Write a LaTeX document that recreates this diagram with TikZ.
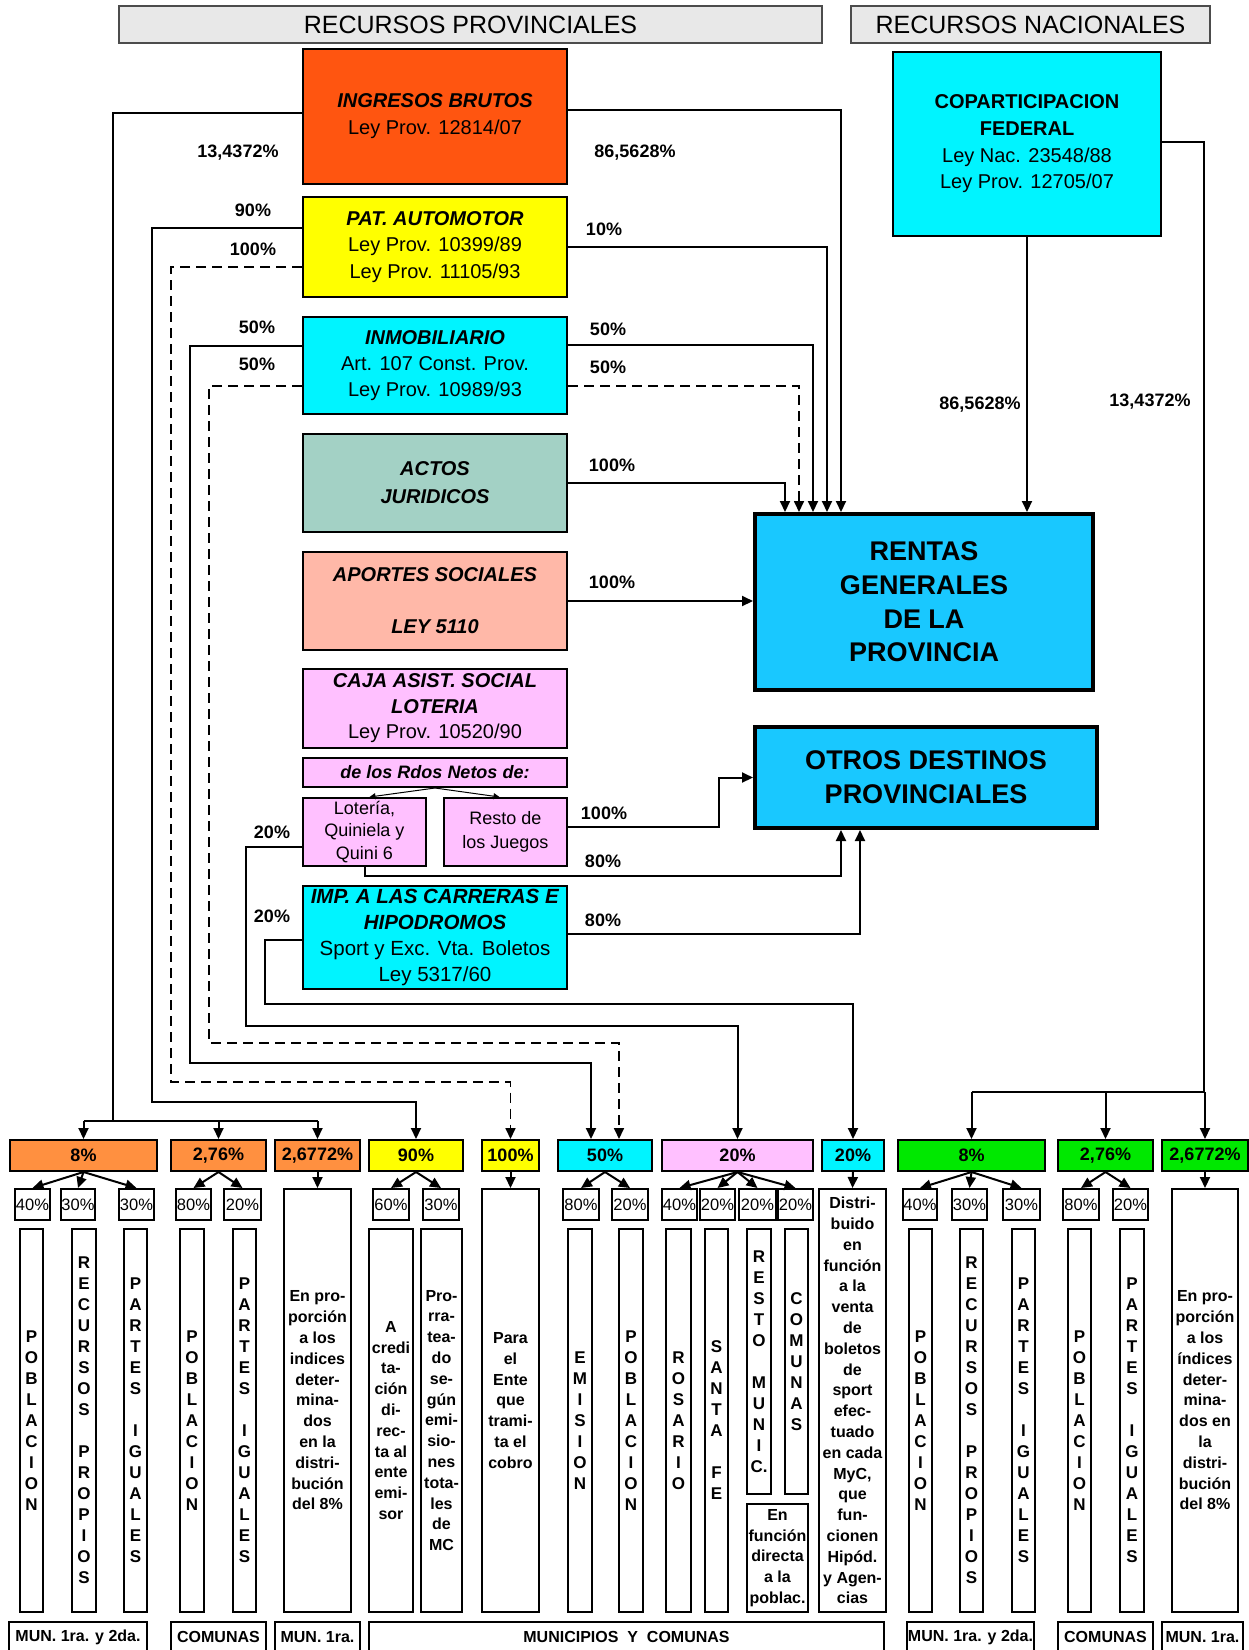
\documentclass[tikz,border=0pt]{standalone}
\usepackage{fontspec}
\setmainfont{Liberation Sans}
\usetikzlibrary{arrows.meta,calc}
\definecolor{hdr}{HTML}{E8E8E8}
\definecolor{cIng}{HTML}{FF5510}
\definecolor{cPat}{HTML}{FFFF00}
\definecolor{cCy}{HTML}{00F4FF}
\definecolor{cAct}{HTML}{A3D1C5}
\definecolor{cApo}{HTML}{FFB8A8}
\definecolor{cPk}{HTML}{FFC0FF}
\definecolor{cRen}{HTML}{19C8FF}
\definecolor{cOr}{HTML}{FF9040}
\definecolor{cGr}{HTML}{00E800}
\newcommand\fsz[2]{\fontsize{#1pt}{#2pt}\selectfont}
\newcommand\Bx[7][]{\node[bx,#1,minimum width={#5-#3},minimum height={#6-#4}] (#2) at ({(#3+#5)/2},{(#4+#6)/2}) {#7};}
\tikzset{
  bx/.style={draw=black, line width=2pt, inner sep=0pt, align=center},
  ln/.style={line width=2pt},
  arr/.style={line width=2pt, -{Triangle[length=11pt,width=10pt]}},
  dsh/.style={line width=1.7pt, dash pattern=on 10pt off 6pt},
  dsharr/.style={dsh, -{Triangle[length=11pt,width=10pt]}},
  sarr/.style={line width=1pt, -{Triangle[length=6pt,width=6pt]}},
  pct/.style={font=\fsz{18}{20}\bfseries},
  vcol/.style={font=\fsz{17}{21}\bfseries},
  para/.style={font=\fsz{16}{20.8}\bfseries},
  pbox/.style={font=\fsz{16.5}{20}},
  tbox/.style={font=\fsz{18}{20}\bfseries},
  lbox/.style={line width=2.5pt, font=\fsz{16}{20}\bfseries},
}
\begin{document}
\begin{tikzpicture}[x=1pt,y=-1pt]
\useasboundingbox (0,0) rectangle (1249,1650);
\fill[white] (0,0) rectangle (1249,1650);

% headers
\Bx[fill=hdr,draw=black!70,font=\fsz{25}{30}]{hP}{119}{6}{822}{43}{RECURSOS PROVINCIALES}
\Bx[fill=hdr,draw=black!70,font=\fsz{25}{30}]{hN}{851}{6}{1210}{43}{RECURSOS NACIONALES}

% source boxes
\Bx[fill=cIng,font=\fsz{20}{27}]{ing}{303}{49}{567}{184}{\textbf{\textit{INGRESOS BRUTOS}}\\Ley Prov. 12814/07}
\Bx[fill=cPat,font=\fsz{20}{26.5}]{pat}{303}{197}{567}{297}{\textbf{\textit{PAT. AUTOMOTOR}}\\Ley Prov. 10399/89\\Ley Prov. 11105/93}
\Bx[fill=cCy,font=\fsz{20}{26}]{inm}{303}{317}{567}{414}{\textbf{\textit{INMOBILIARIO}}\\Art. 107 Const. Prov.\\Ley Prov. 10989/93}
\Bx[fill=cAct,font=\fsz{20}{28}\bfseries\itshape]{act}{303}{434}{567}{532}{ACTOS\\JURIDICOS}
\Bx[fill=cApo,font=\fsz{20}{26}\bfseries\itshape]{apo}{303}{552}{567}{650}{APORTES SOCIALES\\\mbox{}\\LEY 5110}
\Bx[fill=cPk,font=\fsz{20}{25.5}]{caja}{303}{669}{567}{748}{\textbf{\textit{CAJA ASIST. SOCIAL}}\\\textbf{\textit{LOTERIA}}\\Ley Prov. 10520/90}
\Bx[fill=cPk,font=\fsz{18}{20}\bfseries\itshape]{rdos}{303}{758}{567}{787}{de los Rdos Netos de:}
\Bx[fill=cPk,font=\fsz{18}{22.5}]{lot}{303}{798}{426}{866}{Lotería,\\Quiniela y\\Quini 6}
\Bx[fill=cPk,font=\fsz{18}{24}]{res}{444}{798}{567}{866}{Resto de\\los Juegos}
\Bx[fill=cCy,font=\fsz{20.5}{26}]{imp}{303}{886}{567}{989}{\textbf{\textit{IMP. A LAS CARRERAS E}}\\\textbf{\textit{HIPODROMOS}}\\Sport y Exc. Vta. Boletos\\Ley 5317/60}
\Bx[fill=cCy,font=\fsz{20}{26.7}]{cop}{893}{52}{1161}{236}{\textbf{COPARTICIPACION}\\\textbf{FEDERAL}\\Ley Nac. 23548/88\\Ley Prov. 12705/07}
\Bx[fill=cRen,line width=4pt,font=\fsz{27}{33.7}\bfseries]{ren}{755}{514}{1093}{690}{RENTAS\\GENERALES\\DE LA\\PROVINCIA}
\Bx[fill=cRen,line width=4pt,font=\fsz{27}{34}\bfseries]{otr}{755}{727}{1097}{828}{OTROS DESTINOS\\PROVINCIALES}

% percentage labels
\node[pct] (l01) at (238,153) {13,4372\%};
\node[pct] (l02) at (635,153) {86,5628\%};
\node[pct] (l03) at (253,210) {90\%};
\node[pct] (l04) at (253,249) {100\%};
\node[pct] (l05) at (604,229) {10\%};
\node[pct] (l06) at (257,327) {50\%};
\node[pct] (l07) at (257,364) {50\%};
\node[pct] (l08) at (608,329) {50\%};
\node[pct] (l09) at (608,367) {50\%};
\node[pct] (l10) at (612,465) {100\%};
\node[pct] (l11) at (612,582) {100\%};
\node[pct] (l12) at (604,813) {100\%};
\node[pct] (l13) at (603,861) {80\%};
\node[pct] (l14) at (272,832) {20\%};
\node[pct] (l15) at (603,920) {80\%};
\node[pct] (l16) at (272,916) {20\%};
\node[pct] (l17) at (980,405) {86,5628\%};
\node[pct] (l18) at (1150,402) {13,4372\%};

% top row of destination boxes
\Bx[tbox,fill=cOr]{p8o}{10}{1140}{157}{1171}{8\%}
\Bx[tbox,fill=cOr]{p276o}{171}{1140}{266}{1171}{2,76\%}
\Bx[tbox,fill=cOr]{p2772o}{275}{1140}{360}{1171}{2,6772\%}
\Bx[tbox,fill=cPat]{p90}{369}{1140}{463}{1171}{90\%}
\Bx[tbox,fill=cPat]{p100}{482}{1140}{539}{1171}{100\%}
\Bx[tbox,fill=cCy]{p50}{558}{1140}{652}{1171}{50\%}
\Bx[tbox,fill=cPk]{p20p}{662}{1140}{813}{1171}{20\%}
\Bx[tbox,fill=cCy]{p20c}{822}{1140}{884}{1171}{20\%}
\Bx[tbox,fill=cGr]{g8}{898}{1140}{1045}{1171}{8\%}
\Bx[tbox,fill=cGr]{g276}{1058}{1140}{1153}{1171}{2,76\%}
\Bx[tbox,fill=cGr]{g2772}{1162}{1140}{1248}{1171}{2,6772\%}

% percent row
\Bx[pbox]{c1}{15}{1189}{50}{1220}{40\%}
\Bx[pbox]{c2}{62}{1189}{94}{1220}{30\%}
\Bx[pbox]{c3}{119}{1189}{154}{1220}{30\%}
\Bx[pbox]{c4}{176}{1189}{211}{1220}{80\%}
\Bx[pbox]{c5}{224}{1189}{261}{1220}{20\%}
\Bx[pbox]{c6}{373}{1189}{409}{1220}{60\%}
\Bx[pbox]{c7}{423}{1189}{459}{1220}{30\%}
\Bx[pbox]{c8}{563}{1189}{599}{1220}{80\%}
\Bx[pbox]{c9}{612}{1189}{648}{1220}{20\%}
\Bx[pbox]{c10}{662}{1189}{697}{1220}{40\%}
\Bx[pbox]{c11}{700}{1189}{735}{1220}{20\%}
\Bx[pbox]{c12}{739}{1189}{776}{1220}{20\%}
\Bx[pbox]{c13}{778}{1189}{813}{1220}{20\%}
\Bx[pbox]{d1}{903}{1189}{937}{1220}{40\%}
\Bx[pbox]{d2}{952}{1189}{987}{1220}{30\%}
\Bx[pbox]{d3}{1003}{1189}{1040}{1220}{30\%}
\Bx[pbox]{d4}{1063}{1189}{1099}{1220}{80\%}
\Bx[pbox]{d5}{1113}{1189}{1148}{1220}{20\%}

% tall description boxes
\Bx[para]{t2772o}{284}{1189}{351}{1612}{En pro-\\porción\\a los\\indices\\deter-\\mina-\\dos\\en la\\distri-\\bución\\del 8\%}
\Bx[para]{t100}{482}{1189}{539}{1612}{Para\\el\\Ente\\que\\trami-\\ta el\\cobro}
\Bx[para]{t20c}{819}{1189}{886}{1612}{Distri-\\buido\\en\\función\\a la\\venta\\de\\boletos\\de\\sport\\efec-\\tuado\\en cada\\MyC,\\que\\fun-\\cionen\\Hipód.\\y Agen-\\cias}
\Bx[para]{tg}{1172}{1189}{1238}{1612}{En pro-\\porción\\a los\\índices\\deter-\\mina-\\dos en\\la\\distri-\\bución\\del 8\%}

% vertical columns
\Bx[vcol]{v1}{20}{1229}{43}{1612}{P\\O\\B\\L\\A\\C\\I\\O\\N}
\Bx[vcol]{v2}{72}{1229}{96}{1612}{R\\E\\C\\U\\R\\S\\O\\S\\\mbox{}\\P\\R\\O\\P\\I\\O\\S}
\Bx[vcol]{v3}{124}{1229}{147}{1612}{P\\A\\R\\T\\E\\S\\\mbox{}\\I\\G\\U\\A\\L\\E\\S}
\Bx[vcol]{v4}{180}{1229}{204}{1612}{P\\O\\B\\L\\A\\C\\I\\O\\N}
\Bx[vcol]{v5}{233}{1229}{256}{1612}{P\\A\\R\\T\\E\\S\\\mbox{}\\I\\G\\U\\A\\L\\E\\S}
\Bx[para]{pA}{369}{1229}{413}{1612}{A\\credi\\ta-\\ción\\di-\\rec-\\ta al\\ente\\emi-\\sor}
\Bx[para]{pB}{421}{1229}{462}{1612}{Pro-\\rra-\\tea-\\do\\se-\\gún\\emi-\\sio-\\nes\\tota-\\les\\de\\MC}
\Bx[vcol]{vE}{568}{1229}{592}{1612}{E\\M\\I\\S\\I\\O\\N}
\Bx[vcol]{vP}{619}{1229}{643}{1612}{P\\O\\B\\L\\A\\C\\I\\O\\N}
\Bx[vcol]{vR}{666}{1229}{691}{1612}{R\\O\\S\\A\\R\\I\\O}
\Bx[vcol]{vS}{705}{1229}{728}{1612}{S\\A\\N\\T\\A\\\mbox{}\\F\\E}
\Bx[vcol]{vRM}{747}{1229}{771}{1494}{R\\E\\S\\T\\O\\\mbox{}\\M\\U\\N\\I\\C.}
\Bx[vcol]{vC}{785}{1229}{808}{1494}{C\\O\\M\\U\\N\\A\\S}
\Bx[para]{fd}{747}{1504}{808}{1612}{En\\función\\directa\\a la\\poblac.}
\Bx[vcol]{w1}{909}{1229}{932}{1612}{P\\O\\B\\L\\A\\C\\I\\O\\N}
\Bx[vcol]{w2}{960}{1229}{983}{1612}{R\\E\\C\\U\\R\\S\\O\\S\\\mbox{}\\P\\R\\O\\P\\I\\O\\S}
\Bx[vcol]{w3}{1012}{1229}{1035}{1612}{P\\A\\R\\T\\E\\S\\\mbox{}\\I\\G\\U\\A\\L\\E\\S}
\Bx[vcol]{w4}{1068}{1229}{1091}{1612}{P\\O\\B\\L\\A\\C\\I\\O\\N}
\Bx[vcol]{w5}{1120}{1229}{1144}{1612}{P\\A\\R\\T\\E\\S\\\mbox{}\\I\\G\\U\\A\\L\\E\\S}

% bottom labels
\Bx[lbox]{b1}{9}{1622}{147}{1652}{MUN. 1ra. y 2da.}
\Bx[lbox]{b2}{171}{1622}{266}{1652}{COMUNAS}
\Bx[lbox]{b3}{275}{1622}{360}{1652}{MUN. 1ra.}
\Bx[lbox]{b4}{369}{1622}{884}{1652}{MUNICIPIOS~~Y~~COMUNAS}
\Bx[lbox]{b5}{907}{1622}{1034}{1652}{MUN. 1ra. y 2da.}
\Bx[lbox]{b6}{1058}{1622}{1153}{1652}{COMUNAS}
\Bx[lbox]{b7}{1162}{1622}{1243}{1652}{MUN. 1ra.}

% connectors: ingresos brutos
\coordinate (jI) at (113,1121);
\draw[ln] ([yshift=3.5pt]ing.west) -| (jI);
\draw[ln] (p8o.north |- jI) -- (p2772o.north |- jI);
\foreach \t in {p8o,p276o,p2772o} \draw[arr] (\t.north |- jI) -- (\t.north);
\draw[arr] ([yshift=6.5pt]ing.east) -| ([xshift=88pt]ren.north west);
% patente automotor
\draw[arr] (pat.east) -| ([xshift=74pt]ren.north west);
\draw[arr] ([yshift=19pt]pat.west) -| (152,1102) -| (p90.north);
\draw[dsharr] ([yshift=-20pt]pat.west) -| (171,1082) -| (p100.north);
% inmobiliario
\draw[arr] ([yshift=20.5pt]inm.east) -| ([xshift=60pt]ren.north west);
\draw[dsharr] ([yshift=-20.5pt]inm.east) -| ([xshift=46pt]ren.north west);
\draw[arr] ([yshift=19.5pt]inm.west) -| (190,1063) -| ([xshift=-14pt]p50.north);
\draw[dsharr] ([yshift=-20.5pt]inm.west) -| (209,1043) -| ([xshift=14pt]p50.north);
% actos, aportes
\draw[arr] (act.east) -| ([xshift=32pt]ren.north west);
\draw[arr] (apo.east) -- (apo.east -| ren.west);
% coparticipacion
\draw[arr] (cop.south) -- (cop.south |- ren.north);
\coordinate (jC) at (1204,1092);
\draw[ln] ([yshift=2pt]cop.east) -| (jC);
\draw[ln] (g8.north |- jC) -- (jC);
\foreach \t in {g8,g276,g2772} \draw[arr] (\t.north |- jC) -- (\t.north);
% loteria
\draw[sarr] (rdos.south) -- ([xshift=5pt]lot.north);
\draw[sarr] (rdos.south) -- ([xshift=-6pt]res.north);
\draw[arr] ([yshift=5pt]res.east) -- (719,827) |- (otr.west);
\draw[arr] (lot.south) |- (841,876) -- ([xshift=88pt]otr.south west);
\draw[arr] ([yshift=-15pt]lot.west) -| (246,1026) -| (p20p.north);
% carreras
\draw[arr] ([yshift=3.5pt]imp.east) -| ([xshift=107pt]otr.south west);
\draw[arr] ([yshift=-2.5pt]imp.west) -| (265,1004) -| (p20c.north);

% distribution arrows
\foreach \a/\b in {p8o/c1,p8o/c2,p8o/c3,p276o/c4,p276o/c5,p2772o/t2772o,p90/c6,p90/c7,p100/t100,p50/c8,p50/c9,p20p/c10,p20p/c11,p20p/c12,p20p/c13,p20c/t20c,g8/d1,g8/d2,g8/d3,g276/d4,g276/d5,g2772/tg}
  \draw[arr] (\a.south) -- (\b.north);
\end{tikzpicture}
\end{document}
